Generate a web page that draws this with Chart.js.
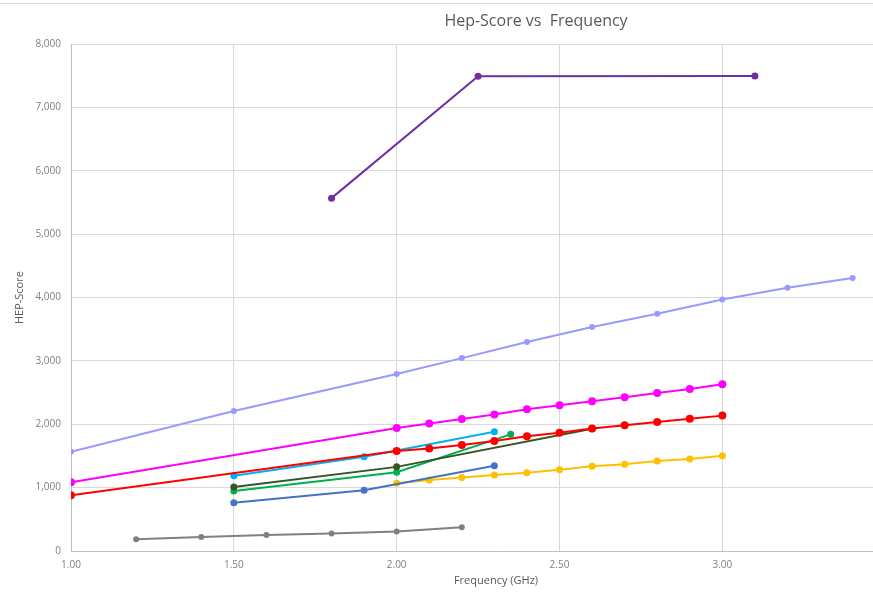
<!DOCTYPE html>
<html>
<head>
<meta charset="utf-8">
<script src="https://cdn.jsdelivr.net/npm/chart.js@4/dist/chart.umd.min.js"></script>
<style>
  html, body { margin: 0; padding: 0; background: #ffffff; overflow: hidden; }
  #frame { position: relative; width: 873px; height: 593px; overflow: hidden; }
  #topRule { position: absolute; left: 0; top: 3px; width: 873px; height: 1px; background: #d9d9d9; }
  #wrap { position: absolute; left: 0; top: 0; width: 1072px; height: 593px; }
</style>
</head>
<body>
<div id="frame">
  <div id="wrap"><canvas id="chart" width="1072" height="593"></canvas></div>
  <div id="topRule"></div>
</div>
<script>
// Hep-Score measured at each CPU frequency (GHz), one pair of arrays per machine
const purpleFreq = [1.8, 2.25, 3.1];
const purpleScore = [5570, 7495, 7500];

const lavenderFreq = [1.0, 1.5, 2.0, 2.2, 2.4, 2.6, 2.8, 3.0, 3.2, 3.4];
const lavenderScore = [1568, 2210, 2795, 3045, 3300, 3535, 3745, 3970, 4155, 4310];

const magentaFreq = [1.0, 2.0, 2.1, 2.2, 2.3, 2.4, 2.5, 2.6, 2.7, 2.8, 2.9, 3.0];
const magentaScore = [1084, 1942, 2011, 2085, 2153, 2237, 2300, 2363, 2426, 2495, 2558, 2632];

const redFreq = [1.0, 2.0, 2.1, 2.2, 2.3, 2.4, 2.5, 2.6, 2.7, 2.8, 2.9, 3.0];
const redScore = [879, 1577, 1619, 1672, 1735, 1811, 1868, 1932, 1984, 2037, 2089, 2137];

const cyanFreq = [1.5, 1.9, 2.3];
const cyanScore = [1189, 1487, 1884];

const oliveFreq = [1.5, 2.0, 2.6];
const oliveScore = [1010, 1328, 1930];

const greenFreq = [1.5, 2.0, 2.35];
const greenScore = [947, 1243, 1841];

const blueFreq = [1.5, 1.9, 2.3];
const blueScore = [763, 958, 1344];

const amberFreq = [2.0, 2.1, 2.2, 2.3, 2.4, 2.5, 2.6, 2.7, 2.8, 2.9, 3.0];
const amberScore = [1069, 1122, 1159, 1201, 1237, 1284, 1337, 1368, 1421, 1453, 1505];

const greyFreq = [1.2, 1.4, 1.6, 1.8, 2.0, 2.2];
const greyScore = [184, 221, 253, 275, 307, 376];

const xTickStep = 0.5;
const yTickStep = 1000;

function pairs(xs, ys) {
  return xs.map((x, i) => ({ x: x, y: ys[i] }));
}

function series(label, xs, ys, color, radius) {
  return {
    label: label,
    data: pairs(xs, ys),
    borderColor: color,
    backgroundColor: color,
    borderWidth: 2,
    pointRadius: radius,
    pointHoverRadius: radius,
    pointBorderWidth: 0,
    tension: 0,
    showLine: true
  };
}

const FONT = '"Open Sans", "DejaVu Sans", sans-serif';
const TEXT = '#595959';

new Chart(document.getElementById('chart'), {
  type: 'scatter',
  data: {
    datasets: [
      series('A', purpleFreq, purpleScore, '#7030A0', 3.5),
      series('B', lavenderFreq, lavenderScore, '#9999FF', 3),
      series('C', magentaFreq, magentaScore, '#FF00FF', 4),
      series('D', redFreq, redScore, '#FF0000', 4),
      series('E', oliveFreq, oliveScore, '#375623', 3.5),
      series('F', greenFreq, greenScore, '#00B050', 3.5),
      series('G', cyanFreq, cyanScore, '#00B0F0', 3.5),
      series('H', blueFreq, blueScore, '#4472C4', 3.5),
      series('I', amberFreq, amberScore, '#FFC000', 3.5),
      series('J', greyFreq, greyScore, '#808080', 3)
    ]
  },
  options: {
    responsive: false,
    animation: false,
    events: [],
    layout: { padding: 0 },
    plugins: {
      legend: { display: false },
      tooltip: { enabled: false },
      title: {
        display: true,
        text: 'Hep-Score vs  Frequency',
        color: TEXT,
        font: { family: FONT, size: 16, weight: 'normal', lineHeight: 1.2 },
        padding: { top: 12, bottom: 13 }
      }
    },
    scales: {
      x: {
        type: 'linear',
        min: 1.0,
        max: 3.61,
        grid: { color: '#d9d9d9', lineWidth: 1, drawTicks: false },
        border: { color: '#bfbfbf', width: 1 },
        ticks: {
          stepSize: xTickStep,
          padding: 8,
          color: '#7f7f7f',
          font: { family: FONT, size: 10 },
          callback: v => Number(v).toFixed(2)
        },
        afterBuildTicks: s => {
          s.ticks = s.ticks.filter(t => Math.abs(t.value / xTickStep - Math.round(t.value / xTickStep)) < 1e-6);
        },
        title: {
          display: true,
          text: 'Frequency (GHz)',
          color: TEXT,
          font: { family: FONT, size: 11 },
          padding: { top: 0, bottom: 6 }
        },
        afterFit: s => { s.height = 42; }
      },
      y: {
        type: 'linear',
        min: 0,
        max: 8000,
        grid: { color: '#d9d9d9', lineWidth: 1, drawTicks: false },
        border: { color: '#bfbfbf', width: 1 },
        ticks: {
          stepSize: yTickStep,
          padding: 10,
          color: '#7f7f7f',
          font: { family: FONT, size: 10 },
          callback: v => Number(v).toLocaleString('en-US')
        },
        title: {
          display: true,
          text: 'HEP-Score',
          color: TEXT,
          font: { family: FONT, size: 11 },
          padding: { top: 13, bottom: 0 }
        },
        afterFit: s => { s.width = 71; }
      },
      // empty band on the right edge, reserved beside the plot area
      side: {
        type: 'linear',
        position: 'right',
        display: true,
        grid: { display: false, drawTicks: false },
        border: { display: false },
        ticks: { display: false },
        afterFit: s => { s.width = 151; }
      }
    }
  }
});
</script>
</body>
</html>
